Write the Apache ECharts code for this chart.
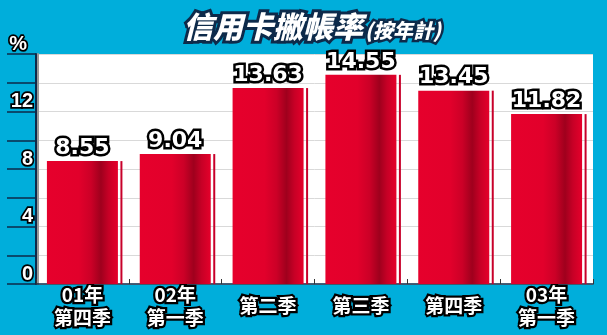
<!DOCTYPE html>
<html>
<head>
<meta charset="utf-8">
<script src="https://cdn.jsdelivr.net/npm/echarts@6/dist/echarts.min.js"></script>
<style>
html,body{margin:0;padding:0;background:#00aedb;}
#c{width:607px;height:335px;}
</style>
</head>
<body>
<div id="c"></div>
<script>
const categories = ['01年\n第四季', '02年\n第一季', '第二季', '第三季', '第四季', '03年\n第一季'];
const rates = [8.55, 9.04, 13.63, 14.55, 13.45, 11.82];
const yMin = 0, yMax = 16, yStep = 2, yLabelStep = 4;
const titleMain = '信用卡撇帳率';
const titleSub = '(按年計)';
const unit = '%';

const chart = echarts.init(document.getElementById('c'), null, {renderer: 'canvas'});
const navy = '#0d2a4a';
const barGrad = new echarts.graphic.LinearGradient(0, 0, 1, 0, [
  {offset: 0, color: '#e6002c'},
  {offset: 0.45, color: '#e2002b'},
  {offset: 0.62, color: '#cc0027'},
  {offset: 0.76, color: '#9f001d'},
  {offset: 0.87, color: '#c70026'},
  {offset: 1, color: '#e5002b'}
]);

chart.setOption({
  backgroundColor: '#00aedb',
  animation: false,
  title: {
    left: 178, top: 7,
    text: '{a|' + titleMain + '}{b|' + titleSub + '}',
    textStyle: {
      rich: {
        a: {fontSize: 30, fontWeight: 900, fontStyle: 'italic', fontFamily: 'Noto Sans CJK TC',
            color: '#fff', textBorderColor: navy, textBorderWidth: 6,
            textShadowColor: '#c4c4c4', textShadowOffsetX: 3, textShadowOffsetY: 3, textShadowBlur: 0},
        b: {fontSize: 20, fontWeight: 900, fontStyle: 'italic', fontFamily: 'Noto Sans CJK TC',
            color: '#fff', textBorderColor: navy, textBorderWidth: 5, padding: [6, 0, 0, 2],
            textShadowColor: '#c4c4c4', textShadowOffsetX: 2, textShadowOffsetY: 2, textShadowBlur: 0}
      }
    }
  },
  grid: {left: 36, right: 14, top: 54, bottom: 51, show: true, backgroundColor: '#fff', borderWidth: 0},
  xAxis: {
    type: 'category',
    data: categories,
    axisLine: {lineStyle: {color: navy, width: 1.5}},
    axisTick: {show: true, inside: true, length: 5, lineStyle: {color: '#333'}},
    axisLabel: {
      interval: 0, margin: 22, verticalAlign: 'middle', lineHeight: 23,
      fontSize: 19, fontWeight: 'bold', fontFamily: 'Noto Sans CJK TC',
      color: '#fff', textBorderColor: '#000', textBorderWidth: 4.5
    }
  },
  yAxis: {
    type: 'value', min: yMin, max: yMax, interval: yStep,
    axisLine: {show: true, lineStyle: {color: navy, width: 2, shadowColor: '#999', shadowOffsetX: 2}},
    axisTick: {show: true, inside: false, length: 29, lineStyle: {color: navy, width: 1.5}},
    splitLine: {show: true, lineStyle: {color: '#d9d9d9', width: 1}},
    axisLabel: {
      margin: 3, align: 'right', verticalAlign: 'bottom',
      fontSize: 20, fontWeight: 'bold', fontFamily: 'Liberation Sans',
      color: '#fff', textBorderColor: '#000', textBorderWidth: 3.5,
      formatter: v => v === yMax ? '{p|' + unit + '}' : (v % yLabelStep === 0 ? String(v) : ''),
      rich: {p: {fontSize: 20, fontWeight: 'bold', fontFamily: 'Liberation Sans', color: '#fff',
                 textBorderColor: '#000', textBorderWidth: 3.5, padding: [0, 6, 0, 0]}}
    }
  },
  series: [
    {
      type: 'bar',
      data: rates,
      barWidth: 71,
      itemStyle: {color: barGrad},
      label: {
        show: true, position: 'top', distance: 2,
        formatter: p => p.value.toFixed(2),
        fontSize: 22, fontWeight: 'bold', fontFamily: 'DejaVu Sans',
        color: '#fff', textBorderColor: '#000', textBorderWidth: 5,
        textShadowColor: '#999', textShadowOffsetX: 2, textShadowOffsetY: 2, textShadowBlur: 0
      },
      z: 3
    },
    {
      type: 'custom',
      data: rates.map((v, i) => [i, v]),
      encode: {x: 0, y: 1},
      renderItem: (params, api) => {
        const top = api.coord([api.value(0), api.value(1)]);
        const bot = api.coord([api.value(0), 0]);
        return {
          type: 'rect',
          shape: {x: top[0] + 38, y: top[1], width: 2, height: bot[1] - top[1]},
          style: {fill: '#c8002a'}
        };
      },
      z: 3
    }
  ]
});
</script>
</body>
</html>
